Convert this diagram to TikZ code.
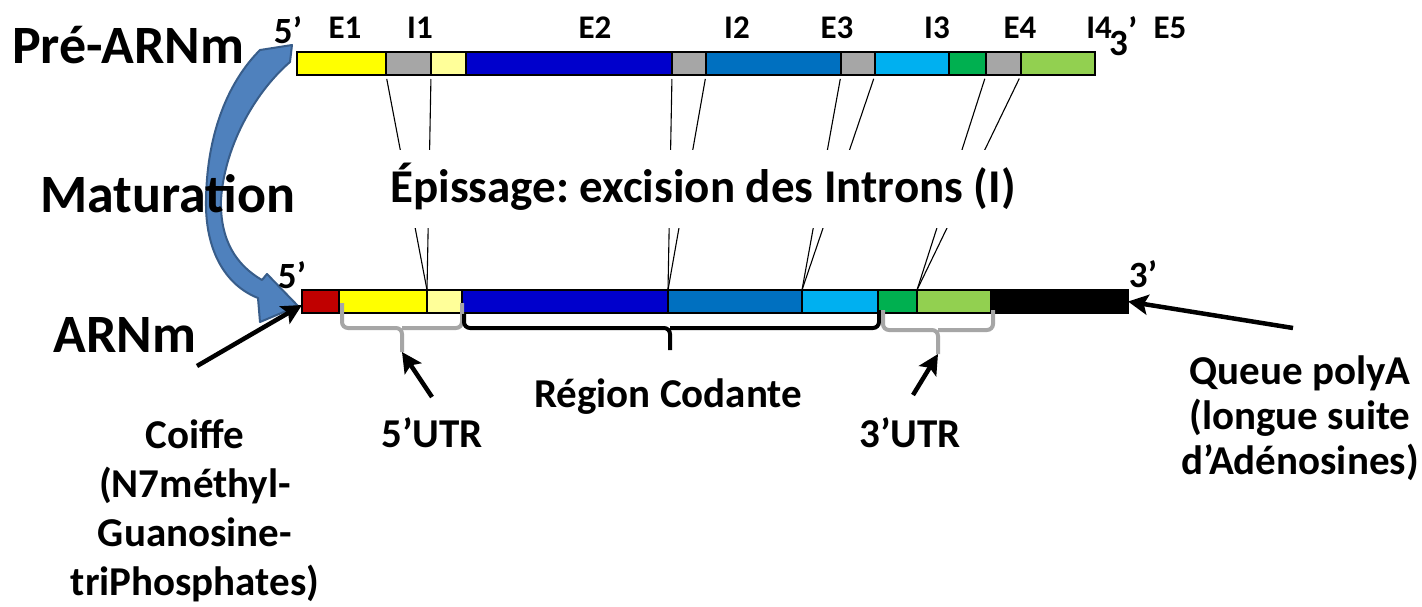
\documentclass[tikz,border=0pt]{standalone}
\usepackage{fontspec}
\setmainfont{Carlito}
\frenchspacing
\usetikzlibrary{arrows.meta}
\definecolor{cyel}{HTML}{FFFF00}
\definecolor{cgray}{HTML}{A6A6A6}
\definecolor{clyel}{HTML}{FFFF99}
\definecolor{cdblue}{HTML}{0000CC}
\definecolor{cmblue}{HTML}{0070C0}
\definecolor{clblue}{HTML}{00B0F0}
\definecolor{cgreen}{HTML}{00B050}
\definecolor{clgreen}{HTML}{92D050}
\definecolor{cred}{HTML}{C00000}
\definecolor{matfill}{HTML}{4F81BD}
\definecolor{matdraw}{HTML}{385D8A}
\begin{document}
\begin{tikzpicture}[x=1pt,y=-1pt,
  seg/.style={draw=black, line width=1.6pt, inner sep=0pt, outer sep=0pt, minimum height=23pt, anchor=north west},
  cut/.style={draw=black, line width=1.1pt, shorten <=4pt},
  lab/.style={font=\fontsize{33}{36}\selectfont\bfseries, inner sep=0pt, anchor=base},
  end/.style={font=\fontsize{37}{40}\selectfont\bfseries, inner sep=0pt, anchor=base},
  big/.style={font=\fontsize{54}{58}\selectfont\bfseries, inner sep=0pt, anchor=base},
  mid/.style={font=\fontsize{41}{49}\selectfont\bfseries, inner sep=0pt, align=center},
  gbrace/.style={draw=cgray, line width=4pt, rounded corners=6pt},
  kbrace/.style={draw=black, line width=4pt, rounded corners=6pt},
  arr/.style={draw=black, line width=4.5pt, -{Stealth[length=20pt,width=20pt,inset=4pt]}}
]
\useasboundingbox[fill=white] (0,0) rectangle (1422,606);

% maturation curved arrow
\filldraw[fill=matfill, draw=matdraw, line width=2pt, line join=round]
  (260,50) -- (292,45) -- (290,62)
  .. controls (252,95) and (224,150) .. (221,200)
  .. controls (220,240) and (236,265) .. (262,280)
  -- (267,274) -- (298,306) -- (260,322) -- (258,298)
  .. controls (225,285) and (205,250) .. (206,200)
  .. controls (207,130) and (230,80) .. (260,50) -- cycle;

% pre-mRNA
\node[seg, fill=cyel,   minimum width=89pt]  (t1)  at (297,52) {};
\node[seg, fill=cgray,  minimum width=45pt]  (t2)  at (t1.north east) {};
\node[seg, fill=clyel,  minimum width=35pt]  (t3)  at (t2.north east) {};
\node[seg, fill=cdblue, minimum width=206pt] (t4)  at (t3.north east) {};
\node[seg, fill=cgray,  minimum width=34pt]  (t5)  at (t4.north east) {};
\node[seg, fill=cmblue, minimum width=135pt] (t6)  at (t5.north east) {};
\node[seg, fill=cgray,  minimum width=34pt]  (t7)  at (t6.north east) {};
\node[seg, fill=clblue, minimum width=74pt]  (t8)  at (t7.north east) {};
\node[seg, fill=cgreen, minimum width=37pt]  (t9)  at (t8.north east) {};
\node[seg, fill=cgray,  minimum width=35pt]  (t10) at (t9.north east) {};
\node[seg, fill=clgreen,minimum width=74pt]  (t11) at (t10.north east) {};

% mRNA
\node[seg, fill=cred,   minimum width=37pt]  (b0)  at (302,290) {};
\node[seg, fill=cyel,   minimum width=88pt]  (b1)  at (b0.north east) {};
\node[seg, fill=clyel,  minimum width=35pt]  (b3)  at (b1.north east) {};
\node[seg, fill=cdblue, minimum width=206pt] (b4)  at (b3.north east) {};
\node[seg, fill=cmblue, minimum width=134pt] (b6)  at (b4.north east) {};
\node[seg, fill=clblue, minimum width=76pt]  (b8)  at (b6.north east) {};
\node[seg, fill=cgreen, minimum width=39pt]  (b9)  at (b8.north east) {};
\node[seg, fill=clgreen,minimum width=74pt]  (b11) at (b9.north east) {};
\node[seg, fill=black,  minimum width=137pt] (bpa) at (b11.north east) {};

% splicing lines
\draw[cut] (t2.south west)  -- (b1.north east);
\draw[cut] (t2.south east)  -- (b3.north west);
\draw[cut] (t4.south east)  -- (b4.north east);
\draw[cut] (t6.south west)  -- (b6.north west);
\draw[cut] (t7.south west)  -- (b8.north west);
\draw[cut] (t8.south west)  -- (b8.north west);
\draw[cut] (t10.south west) -- (b11.north west);
\draw[cut] (t11.south west) -- (b11.north west);

\node[font=\fontsize{47}{50}\selectfont\bfseries, fill=white, anchor=base,
      text height=52pt, text depth=26pt, inner ysep=0pt, inner xsep=4pt]
  (epi) at (703,202) {Épissage: excision des Introns (I)};

% labels top
\node[end] (p5) at (288,43) {5’};
\node[lab] (lE1) at (345,38) {E1};
\node[lab] (lI1) at (420,38) {I1};
\node[lab] (lE2) at (595,38) {E2};
\node[lab] (lI2) at (737,38) {I2};
\node[lab] (lE3) at (837,38) {E3};
\node[lab] (lI3) at (937,38) {I3};
\node[lab] (lE4) at (1020,38) {E4};
\node[lab] (lI4) at (1099,38) {I4};
\node[end, anchor=base west] (p3) at (1109,55) {3\raisebox{12pt}{’}};
\node[lab] (lE5) at (1170,38) {E5};

% labels bottom
\node[end] (m5) at (292,288) {5’};
\node[end] (m3) at (1143,287) {3’};

\node[big] (pre) at (128,63) {Pré-ARNm};
\node[big] (mat) at (168,212) {Maturation};
\node[big] (arn) at (125,352) {ARNm};

% braces
\coordinate (u5tip) at (402,352);
\coordinate (cdtip) at (670,350);
\coordinate (u3tip) at (938,354);
\draw[gbrace] (342,303) -- (342,328) -- (402,328) -- (u5tip);
\draw[gbrace] (462,303) -- (462,328) -- (402,328);
\draw[kbrace] (464,314) -- (464,328) -- (670,328) -- (cdtip);
\draw[kbrace] (879,310) -- (879,328) -- (670,328);
\draw[gbrace] (883,310) -- (883,330) -- (938,330) -- (u3tip);
\draw[gbrace] (993,310) -- (993,330) -- (938,330);

% labels below
\node[mid, anchor=base] (coif) at (195,595) {Coiffe\\(N7méthyl-\\Guanosine-\\triPhosphates)};
\node[mid, anchor=base] (u5) at (432,447) {5’UTR};
\node[mid, anchor=base] (rc) at (668,407) {Région Codante};
\node[mid, anchor=base] (u3) at (910,447) {3’UTR};
\node[mid, anchor=base, font=\fontsize{41}{45}\selectfont\bfseries] (pa) at (1300,474) {Queue polyA\\(longue suite\\d’Adénosines)};

% arrows
\coordinate (coifTail) at (197,366);
\coordinate (u5Tail) at (432,397);
\coordinate (u3Tail) at (913,395);
\coordinate (paTail) at (1293,328);
\draw[arr] (coifTail) -- ([yshift=8pt]b0.south west);
\draw[arr] (u5Tail) -- (u5tip);
\draw[arr] (u3Tail) -- (u3tip);
\draw[arr] (paTail) -- (bpa.east);
\end{tikzpicture}
\end{document}
